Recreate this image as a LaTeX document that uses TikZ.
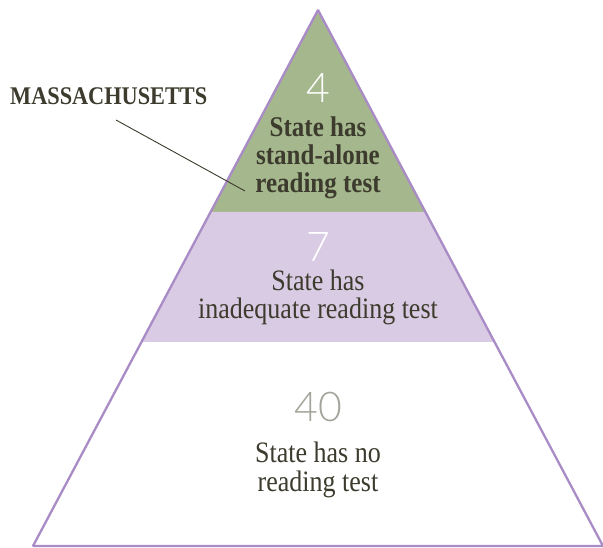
\documentclass[tikz,border=0pt]{standalone}
\usepackage{fontspec}
\usepackage{graphicx}
\setmainfont{Liberation Serif}
\newfontfamily\digitfont{Lato}[UprightFont={* Light}]
\newcommand{\tallt}[1]{\scalebox{1}[1.14]{#1}}
\definecolor{grfill}{HTML}{A5B78D}
\definecolor{pufill}{HTML}{D9CBE3}
\definecolor{pustroke}{HTML}{A98BC6}
\definecolor{ink}{HTML}{3C3B2D}
\definecolor{greydig}{HTML}{A3A39A}
\tikzset{
  lbl/.style={inner sep=0pt, anchor=base, text=ink, font=\fontsize{26}{28}\selectfont},
  lblb/.style={lbl, font=\fontsize{25}{28}\selectfont\bfseries},
  dig/.style={inner sep=0pt, anchor=base, font=\fontsize{41}{41}\digitfont},
}
\begin{document}
\begin{tikzpicture}[x=1pt,y=-1pt]
\useasboundingbox (0,0) rectangle (603,548);
% layers
\fill[grfill] (318,10) -- (210.6,212) -- (425.4,212) -- cycle;
\fill[pufill] (210.6,212) -- (425.4,212) -- (494.5,342) -- (141.5,342) -- cycle;
\draw[pustroke, line width=2.3pt, line join=bevel] (318,10) -- (603,546) -- (33,546) -- cycle;
% top
\node[dig, text=white] (n4) at (318,103) {4};
\node[lblb] (g1) at (318,137) {\tallt{State has}};
\node[lblb] (g2) at (318,165) {\tallt{stand-alone}};
\node[lblb] (g3) at (318,193) {\tallt{reading test}};
% middle
\node[dig, text=white] (n7) at (318,262) {7};
\node[lbl] (p1) at (318,291) {\tallt{State has}};
\node[lbl] (p2) at (318,319) {\tallt{inadequate reading test}};
% bottom
\node[dig, text=greydig] (n40) at (318,421) {40};
\node[lbl] (w1) at (318,462) {\tallt{State has no}};
\node[lbl] (w2) at (318,491) {\tallt{reading test}};
% callout
\node[inner sep=0pt, anchor=base west, text=ink, font=\fontsize{22.3}{24}\selectfont\bfseries] (ma) at (10,105) {\tallt{MASSACHUSETTS}};
\coordinate (l1) at (116,120);
\coordinate (l2) at (245,191);
\draw[ink, line width=0.9pt] (l1) -- (l2);
\end{tikzpicture}
\end{document}
